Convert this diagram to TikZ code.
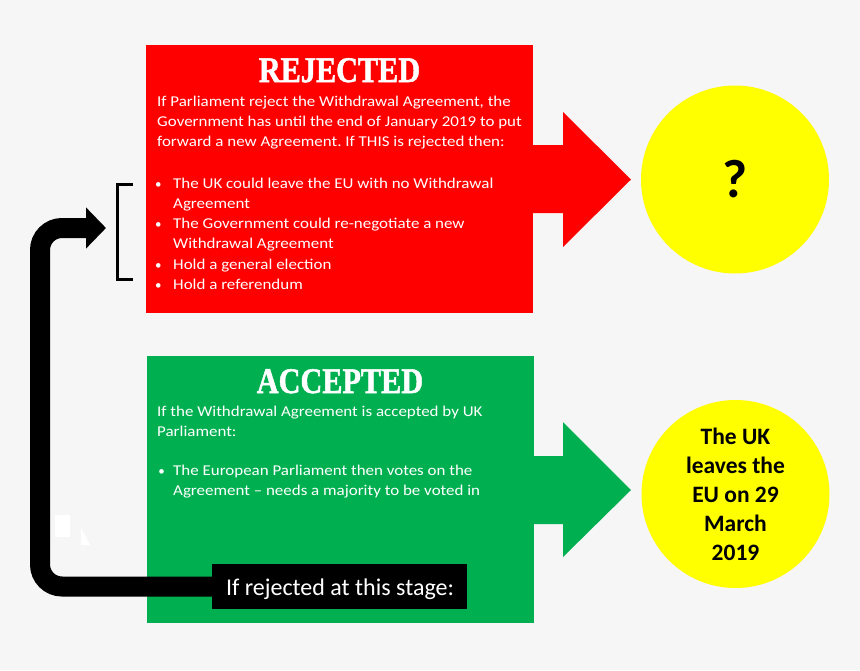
\documentclass[tikz,border=0pt]{standalone}
\usepackage{fontspec}
\setmainfont{Carlito}
\newfontfamily\bodyfont{Carlito}[FakeStretch=1.13,Ligatures=TeX]
\newfontfamily\titlefont{Liberation Serif}[BoldFeatures={FakeBold=1.5}]
\usetikzlibrary{arrows.meta,calc}
\definecolor{bgc}{HTML}{F6F6F6}
\definecolor{redc}{HTML}{FF0000}
\definecolor{greenc}{HTML}{00B050}
\definecolor{yelc}{HTML}{FFFF00}
\frenchspacing
\begin{document}
\begin{tikzpicture}[x=1pt,y=-1pt,
  panel/.style={inner sep=0pt, anchor=north west, minimum width=387pt, minimum height=268pt},
  ttl/.style={anchor=base, inner sep=0pt, text=white, font=\titlefont\bfseries\fontsize{36}{36}\selectfont},
  txt/.style={anchor=base west, inner sep=0pt, text=white, font=\bodyfont\fontsize{15}{18}\selectfont},
  bul/.style={anchor=base, inner sep=0pt, text=white, font=\fontsize{13}{18}\selectfont},
  disc/.style={circle, fill=yelc, minimum size=188pt, inner sep=0pt, font=\bfseries},
  blockarrow/.style={draw=none},
  loopline/.style={line width=20pt, rounded corners=22pt, -{Triangle[length=20pt,width=40pt]}},
]
\fill[bgc] (0,0) rectangle (860,670);
\useasboundingbox (0,0) rectangle (860,670);

% panels
\node[panel, fill=redc] (rej) at (146,45) {};
\node[panel, fill=greenc, minimum height=267pt] (acc) at (147,356) {};

% block arrows
\fill[redc, blockarrow] (530,145) -- (563,145) -- (563,112) -- (631,179.5) -- (563,247) -- (563,213) -- (530,213) -- cycle;
\fill[greenc, blockarrow] (531,456) -- (563,456) -- (563,422) -- (631,490) -- (563,557) -- (563,524) -- (531,524) -- cycle;

% circles
\node[disc, font=\bfseries\fontsize{54}{54}\selectfont] (q) at (735,179.5) {?};
\node[disc, align=center, font=\bfseries\fontsize{23.5}{29}\selectfont] (leave) at (735.5,494) {The UK\\leaves the\\EU on 29\\March\\2019};

% titles
\node[ttl] (rt) at (339.5,82) {\scalebox{0.84}[1]{REJECTED}};
\node[ttl] (at) at (340,393) {\scalebox{0.84}[1]{ACCEPTED}};

% rejected text
\node[txt] (r1) at (157,106) {If Parliament reject the Withdrawal Agreement, the};
\node[txt] (r2) at (157,126) {Government has until the end of January 2019 to put};
\node[txt] (r3) at (157,146) {forward a new Agreement. If THIS is rejected then:};
\node[bul] (rb1) at (158.3,188) {\textbullet};
\node[txt] (r4) at (173,188) {The UK could leave the EU with no Withdrawal};
\node[txt] (r5) at (173,208) {Agreement};
\node[bul] (rb2) at (158.3,228) {\textbullet};
\node[txt] (r6) at (173,228) {The Government could re-negotiate a new};
\node[txt] (r7) at (173,248) {Withdrawal Agreement};
\node[bul] (rb3) at (158.3,269) {\textbullet};
\node[txt] (r8) at (173,269) {Hold a general election};
\node[bul] (rb4) at (158.3,289) {\textbullet};
\node[txt] (r9) at (173,289) {Hold a referendum};

% accepted text
\node[txt] (a1) at (157,416.5) {If the Withdrawal Agreement is accepted by UK};
\node[txt] (a2) at (157,436) {Parliament:};
\node[bul] (ab1) at (161.5,475) {\textbullet};
\node[txt] (a3) at (173,475) {The European Parliament then votes on the};
\node[txt] (a4) at (173,495) {Agreement – needs a majority to be voted in};

% bracket
\coordinate (bt) at (133,184.5);
\coordinate (bb) at (133,279);
\draw[line width=3pt] (bt) -- (117,184.5) -- (117,279) -- (bb);

% white marks
\fill[white] (55,515) rectangle (70,537);
\fill[white] (81,528) -- (90,545) -- (81,545) -- cycle;

% loop connector
\coordinate (back) at (106,228);
\node[fill=black, minimum width=255pt, minimum height=45pt, inner sep=0pt] (stage) at (339.5,586.5) {};
\draw[loopline] (stage.west) -| (40,228) -- (back);
\node[anchor=base, inner sep=0pt, text=white, font=\fontsize{24}{24}\selectfont] (stagetxt) at (340,595) {If rejected at this stage:};
\end{tikzpicture}
\end{document}
